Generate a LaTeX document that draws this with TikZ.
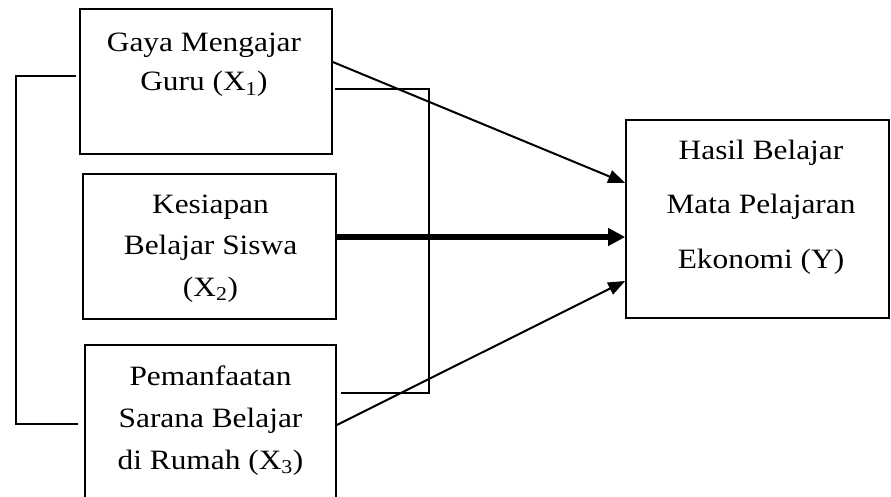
\documentclass[tikz,border=0pt]{standalone}
\usepackage{fontspec}
\setmainfont[FakeStretch=1.12]{Liberation Serif}
\usetikzlibrary{arrows.meta}
\begin{document}
\begin{tikzpicture}[x=1pt,y=-1pt,
  box/.style={draw,line width=1.6pt,inner sep=0pt},
  lbl/.style={align=center,anchor=base,inner sep=0pt},
  link/.style={line width=1.6pt},
  arr/.style={line width=2pt,-{Triangle[length=17pt,width=13pt]}},
  thickarr/.style={line width=6pt,-{Triangle[length=17pt,width=17pt]}}]
\useasboundingbox (0,0) rectangle (891,497);
\clip (0,0) rectangle (891,497);
% boxes
\node[box,minimum width=252pt,minimum height=145pt] (x1) at (206,81.5) {};
\node[box,minimum width=253pt,minimum height=145pt] (x2) at (209.5,246.5) {};
\node[box,minimum width=251pt,minimum height=175pt] (x3) at (210.5,432.5) {};
\node[box,minimum width=263pt,minimum height=198pt] (y) at (757.5,219) {};
% texts (anchored at the baseline of their last line)
\node[lbl,font=\fontsize{28}{39}\selectfont] (x1t) at (204,91) {Gaya Mengajar\\Guru (X\textsubscript{1})};
\node[lbl,font=\fontsize{28}{41.5}\selectfont] (x2t) at (210.5,296) {Kesiapan\\Belajar Siswa\\(X\textsubscript{2})};
\node[lbl,font=\fontsize{28}{42}\selectfont] (x3t) at (210.5,469) {Pemanfaatan\\Sarana Belajar\\di Rumah (X\textsubscript{3})};
\node[lbl,font=\fontsize{28}{54}\selectfont] (yt) at (761,268) {Hasil Belajar\\Mata Pelajaran\\Ekonomi (Y)};
% helper coordinates
\coordinate (lb1) at (16,76);
\coordinate (lb2) at (16,424);
\coordinate (rb1) at (429,89);
\coordinate (rb2) at (429,393);
\coordinate (h1) at (0,62);
\coordinate (h2) at (0,183);
\coordinate (h3) at (0,237);
\coordinate (h4) at (0,425);
\coordinate (h5) at (0,281);
% brackets
\draw[link,shorten <=3pt,shorten >=6pt] (x1.west |- lb1) -- (lb1) -- (lb2) -- (x3.west |- lb2);
\draw[link,shorten <=2pt,shorten >=4pt] (x1.east |- rb1) -- (rb1) -- (rb2) -- (x3.east |- rb2);
% arrows
\draw[arr] (x1.east |- h1) -- (y.west |- h2);
\draw[thickarr] (x2.east |- h3) -- (y.west |- h3);
\draw[arr] (x3.east |- h4) -- (y.west |- h5);
\end{tikzpicture}
\end{document}
